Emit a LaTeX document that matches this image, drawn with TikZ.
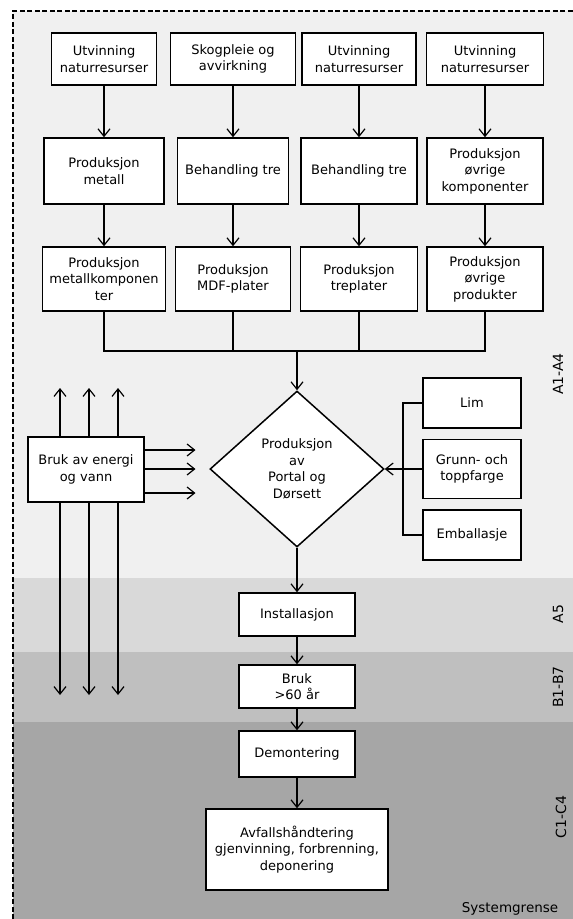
\documentclass[tikz,border=0pt]{standalone}
\usepackage{fontspec}
\setmainfont{DejaVu Sans}
\usetikzlibrary{arrows.meta,shapes.geometric}

\definecolor{bandA}{RGB}{240,240,240}
\definecolor{bandAfem}{RGB}{217,217,217}
\definecolor{bandB}{RGB}{191,191,191}
\definecolor{bandC}{RGB}{166,166,166}

\begin{document}
\begin{tikzpicture}[x=1pt,y=-1pt]
\tikzset{box/.style = {shape=rectangle,draw,fill=white,line width=1.5pt,align=center,inner sep=1pt,font=\fontsize{13}{16.5}\selectfont}}
\tikzset{edge/.style = {-{Straight Barb[length=7.5pt,width=12pt,line width=1.2pt]},line width=1.2pt}}
\tikzset{line/.style = {line width=1.2pt}}
\tikzset{phase/.style = {rotate=90,font=\fontsize{14}{16}\selectfont}}

\useasboundingbox (0,0) rectangle (573,919);
% faser
\fill[bandA] (13,11) rectangle (573,578);
\fill[bandAfem] (13,578) rectangle (573,652);
\fill[bandB] (13,652) rectangle (573,722);
\fill[bandC] (13,722) rectangle (573,919);
\draw[line width=1.3pt,dash pattern=on 5pt off 2.5pt] (13,919) -- (13,11) -- (573,11);

% raavarer
\node[box,minimum width=105,minimum height=52] (a1) at (104,59) {Utvinning\\naturresurser};
\node[box,minimum width=125,minimum height=52] (a2) at (233,59) {Skogpleie og\\avvirkning};
\node[box,minimum width=114,minimum height=52] (a3) at (359,59) {Utvinning\\naturresurser};
\node[box,minimum width=117,minimum height=52] (a4) at (485,59) {Utvinning\\naturresurser};

\node[box,minimum width=120,minimum height=66] (b1) at (104,171) {Produksjon\\metall};
\node[box,minimum width=111,minimum height=66] (b2) at (233,171) {Behandling tre};
\node[box,minimum width=116,minimum height=66] (b3) at (359,171) {Behandling tre};
\node[box,minimum width=116,minimum height=66] (b4) at (485,171) {Produksjon\\øvrige\\komponenter};

\node[box,minimum width=123,minimum height=64] (c1) at (104,279) {Produksjon\\metallkomponen\\ter};
\node[box,minimum width=115,minimum height=64] (c2) at (233,279) {Produksjon\\MDF-plater};
\node[box,minimum width=117,minimum height=64] (c3) at (359,279) {Produksjon\\treplater};
\node[box,minimum width=116,minimum height=64] (c4) at (485,279) {Produksjon\\øvrige\\produkter};

\draw[edge] (a1) -- (b1);
\draw[edge] (a2) -- (b2);
\draw[edge] (a3) -- (b3);
\draw[edge] (a4) -- (b4);
\draw[edge] (b1) -- (c1);
\draw[edge] (b2) -- (c2);
\draw[edge] (b3) -- (c3);
\draw[edge] (b4) -- (c4);

% produksjon
\coordinate (join) at (297,351);
\node[box,shape=diamond,inner sep=0pt,minimum width=174,minimum height=156] (prod) at (297,469) {Produksjon\\av\\Portal og\\Dørsett};
\draw[line] (c1.south) |- (join);
\draw[line] (c2.south) |- (join);
\draw[line] (c3.south) |- (join);
\draw[line] (c4.south) |- (join);
\draw[edge] (join) -- (prod);

% energi og vann
\node[box,minimum width=116,minimum height=65] (energi) at (86,469.5) {Bruk av energi\\og vann};
\coordinate (u1) at (60,388);
\coordinate (u2) at (89,388);
\coordinate (u3) at (118,388);
\coordinate (d1) at (60,695);
\coordinate (d2) at (89,695);
\coordinate (d3) at (118,695);
\coordinate (r1) at (195.5,450);
\coordinate (r2) at (195.5,469);
\coordinate (r3) at (195.5,493);
\draw[edge] (energi.north -| u1) -- (u1);
\draw[edge] (energi.north -| u2) -- (u2);
\draw[edge] (energi.north -| u3) -- (u3);
\draw[edge] (energi.south -| d1) -- (d1);
\draw[edge] (energi.south -| d2) -- (d2);
\draw[edge] (energi.south -| d3) -- (d3);
\draw[edge] (energi.east |- r1) -- (r1);
\draw[edge] (energi.east |- r2) -- (r2);
\draw[edge] (energi.east |- r3) -- (r3);

% tilsetninger
\node[box,minimum width=98,minimum height=50] (lim) at (472,403) {Lim};
\node[box,minimum width=98,minimum height=59] (farge) at (472,469) {Grunn- och\\toppfarge};
\node[box,minimum width=98,minimum height=50] (emb) at (472,535) {Emballasje};
\coordinate (bus) at (403,469);
\draw[line] (lim.west) -- (lim.west -| bus) -- (emb.west -| bus) -- (emb.west);
\draw[edge] (farge.west) -- (prod.east);

% bruk og slutt
\node[box,minimum width=116,minimum height=43] (inst) at (297,614.5) {Installasjon};
\node[box,minimum width=116,minimum height=43] (bruk) at (297,686.5) {Bruk\\>60 år};
\node[box,minimum width=116,minimum height=46] (demont) at (297,754) {Demontering};
\node[box,minimum width=182,minimum height=81] (avfall) at (297,849.5) {Avfallshåndtering\\gjenvinning, forbrenning,\\deponering};
\draw[edge] (prod) -- (inst);
\draw[edge] (inst) -- (bruk);
\draw[edge] (bruk) -- (demont);
\draw[edge] (demont) -- (avfall);

% faser
\node[phase] (fA) at (558,374) {A1-A4};
\node[phase] (fA5) at (558,614) {A5};
\node[phase] (fB) at (558,687) {B1-B7};
\node[phase] (fC) at (561,817) {C1-C4};
\node[font=\fontsize{13.5}{16}\selectfont] (grense) at (510,909) {Systemgrense};
\end{tikzpicture}
\end{document}
